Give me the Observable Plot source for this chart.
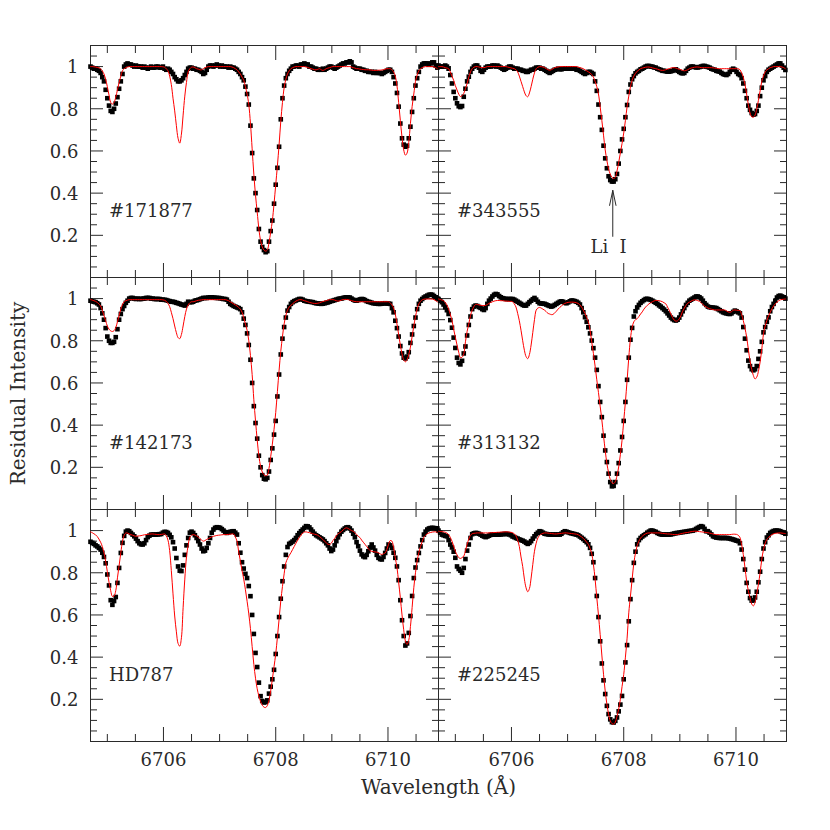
<!DOCTYPE html>
<html>
<head>
<meta charset="utf-8">
<script src="https://cdn.jsdelivr.net/npm/d3@7"></script>
<script src="https://cdn.jsdelivr.net/npm/@observablehq/plot@0.6"></script>
<style>
  body { margin: 0; background: #fff; }
</style>
</head>
<body>
<div id="chart"></div>
<script>
// ---------- data ----------
const wave = [
6704.70,6704.73,6704.76,6704.79,6704.82,6704.85,6704.88,6704.91,6704.94,6704.97,
6705.00,6705.03,6705.06,6705.09,6705.12,6705.15,6705.18,6705.21,6705.24,6705.27,
6705.30,6705.33,6705.36,6705.39,6705.42,6705.45,6705.48,6705.51,6705.54,6705.57,
6705.60,6705.63,6705.66,6705.69,6705.72,6705.75,6705.78,6705.81,6705.84,6705.87,
6705.90,6705.93,6705.96,6705.99,6706.02,6706.05,6706.08,6706.11,6706.14,6706.17,
6706.20,6706.23,6706.26,6706.29,6706.32,6706.35,6706.38,6706.41,6706.44,6706.47,
6706.50,6706.53,6706.56,6706.59,6706.62,6706.65,6706.68,6706.71,6706.74,6706.77,
6706.80,6706.83,6706.86,6706.89,6706.92,6706.95,6706.98,6707.01,6707.04,6707.07,
6707.10,6707.13,6707.16,6707.19,6707.22,6707.25,6707.28,6707.31,6707.34,6707.37,
6707.40,6707.43,6707.46,6707.49,6707.52,6707.55,6707.58,6707.61,6707.64,6707.67,
6707.70,6707.73,6707.76,6707.79,6707.82,6707.85,6707.88,6707.91,6707.94,6707.97,
6708.00,6708.03,6708.06,6708.09,6708.12,6708.15,6708.18,6708.21,6708.24,6708.27,
6708.30,6708.33,6708.36,6708.39,6708.42,6708.45,6708.48,6708.51,6708.54,6708.57,
6708.60,6708.63,6708.66,6708.69,6708.72,6708.75,6708.78,6708.81,6708.84,6708.87,
6708.90,6708.93,6708.96,6708.99,6709.02,6709.05,6709.08,6709.11,6709.14,6709.17,
6709.20,6709.23,6709.26,6709.29,6709.32,6709.35,6709.38,6709.41,6709.44,6709.47,
6709.50,6709.53,6709.56,6709.59,6709.62,6709.65,6709.68,6709.71,6709.74,6709.77,
6709.80,6709.83,6709.86,6709.89,6709.92,6709.95,6709.98,6710.01,6710.04,6710.07,
6710.10,6710.13,6710.16,6710.19,6710.22,6710.25,6710.28,6710.31,6710.34,6710.37,
6710.40,6710.43,6710.46,6710.49,6710.52,6710.55,6710.58,6710.61,6710.64,6710.67,
6710.70,6710.73,6710.76,6710.79,6710.82,6710.85,6710.88
];

const starNames = ["#171877", "#343555", "#142173", "#313132", "HD787", "#225245"];
const starCols  = ["L", "R", "L", "R", "L", "R"];
const starRows  = [0, 0, 1, 1, 2, 2];

// #171877 (top left)
const obs171877 = [
1.00,0.995,0.99,0.99,0.985,0.98,0.97,0.95,0.93,0.89,
0.85,0.815,0.79,0.785,0.80,0.825,0.855,0.895,0.93,0.965,
1.00,1.01,1.015,1.01,1.01,1.005,1.00,1.005,1.00,1.00,
1.00,0.995,1.00,0.995,0.99,0.995,1.00,0.995,0.995,1.00,
1.00,0.995,0.995,1.00,0.99,0.985,0.99,0.985,0.975,0.965,
0.95,0.94,0.93,0.93,0.935,0.945,0.96,0.975,0.99,0.995,
0.995,0.99,0.99,0.985,0.985,0.98,0.975,0.965,0.97,0.985,
1.00,1.005,1.005,1.00,1.005,1.01,1.005,1.00,1.005,1.00,
1.00,1.00,0.995,1.00,0.995,0.995,0.99,0.985,0.975,0.965,
0.95,0.935,0.905,0.87,0.82,0.72,0.59,0.47,0.40,0.32,
0.23,0.17,0.145,0.13,0.12,0.125,0.17,0.22,0.27,0.35,
0.44,0.52,0.62,0.75,0.85,0.91,0.945,0.965,0.98,0.99,
1.00,1.00,1.005,1.005,1.00,1.01,1.01,1.015,1.01,1.01,
1.00,1.00,0.995,0.99,0.99,0.985,0.985,0.985,0.99,0.985,
0.99,0.995,1.00,1.00,0.995,0.99,0.995,1.00,1.005,1.01,
1.015,1.015,1.02,1.02,1.025,1.02,1.00,0.995,0.99,0.99,
0.99,0.985,0.985,0.98,0.98,0.975,0.975,0.975,0.97,0.975,
0.97,0.97,0.97,0.965,0.97,0.975,0.98,0.985,0.985,0.975,
0.95,0.92,0.875,0.81,0.73,0.66,0.63,0.62,0.625,0.66,
0.715,0.785,0.85,0.91,0.945,0.975,1.00,1.01,1.015,1.015,
1.015,1.01,1.015,1.02,1.02,1.005,0.995
];
const model171877 = [
1.0,1.0,0.999,0.998,0.996,0.994,0.99,0.98,0.965,0.94,
0.905,0.865,0.83,0.822,0.83,0.855,0.89,0.925,0.955,0.98,
0.99,0.995,0.998,1.0,1.0,1.0,1.0,1.0,1.0,1.0,
1.0,1.0,1.0,1.0,1.0,1.0,1.0,1.0,1.0,1.0,
1.0,1.0,1.0,0.999,0.997,0.99,0.98,0.955,0.915,0.85,
0.79,0.72,0.66,0.637,0.68,0.77,0.86,0.925,0.975,0.99,
0.997,0.998,0.995,0.99,0.988,0.985,0.985,0.99,0.995,0.998,
1.0,1.0,1.0,1.0,1.0,1.0,1.0,1.0,1.0,1.0,
1.0,1.0,1.0,1.0,0.998,0.995,0.99,0.985,0.975,0.965,
0.95,0.935,0.905,0.87,0.82,0.73,0.61,0.49,0.39,0.31,
0.23,0.175,0.145,0.13,0.125,0.13,0.165,0.215,0.27,0.35,
0.44,0.53,0.63,0.74,0.83,0.9,0.94,0.965,0.98,0.99,
0.995,0.998,1.0,1.0,1.0,1.0,1.0,1.0,0.998,0.996,
0.993,0.99,0.988,0.985,0.985,0.987,0.99,0.985,0.982,0.985,
0.99,0.993,0.995,0.998,1.0,1.0,1.0,1.0,1.0,1.0,
1.0,1.0,1.0,1.0,1.0,0.998,0.995,0.993,0.99,0.99,
0.988,0.987,0.986,0.985,0.985,0.985,0.984,0.983,0.982,0.982,
0.982,0.983,0.983,0.984,0.985,0.988,0.99,0.99,0.99,0.985,
0.975,0.955,0.91,0.83,0.745,0.665,0.605,0.58,0.59,0.64,
0.73,0.81,0.87,0.93,0.96,0.98,0.99,0.995,0.998,1.0,
1.0,1.0,1.0,1.0,0.998,0.995,0.99
];

// #343555 (top right)
const obs343555 = [
1.005,1.0,1.0,1.0,1.005,1.0,0.99,0.96,0.92,0.88,
0.85,0.826,0.812,0.808,0.813,0.857,0.895,0.93,0.952,0.975,
0.99,1.0,1.005,1.005,0.995,0.98,0.975,0.985,0.995,1.0,
1.0,1.0,1.005,1.005,1.0,1.005,1.0,0.995,0.99,0.985,
0.99,0.995,1.0,1.0,0.995,0.99,0.99,0.99,0.985,0.985,
0.98,0.98,0.975,0.975,0.98,0.985,0.985,0.99,0.995,0.995,
0.995,0.99,0.99,0.985,0.98,0.975,0.97,0.975,0.98,0.985,
0.987,0.99,0.988,0.987,0.99,0.992,0.99,0.99,0.992,0.99,
0.99,0.99,0.985,0.985,0.98,0.975,0.97,0.965,0.97,0.975,
0.975,0.97,0.965,0.93,0.885,0.82,0.76,0.70,0.625,0.565,
0.518,0.48,0.462,0.455,0.455,0.466,0.491,0.54,0.6,0.655,
0.705,0.76,0.818,0.88,0.915,0.94,0.955,0.968,0.975,0.98,
0.987,0.99,0.995,1.0,1.003,1.003,1.0,1.0,0.996,0.995,
0.99,0.987,0.984,0.98,0.98,0.978,0.976,0.976,0.978,0.98,
0.985,0.987,0.98,0.975,0.97,0.968,0.97,0.98,0.99,0.995,
1.0,1.0,0.998,0.996,0.996,0.998,1.0,1.003,1.003,1.0,
0.998,0.995,0.99,0.987,0.985,0.98,0.978,0.976,0.97,0.965,
0.962,0.96,0.965,0.975,0.985,0.99,0.985,0.975,0.965,0.96,
0.945,0.92,0.885,0.85,0.815,0.795,0.78,0.772,0.775,0.79,
0.815,0.86,0.9,0.935,0.955,0.975,0.985,0.99,0.995,1.0,
1.005,1.01,1.015,1.015,1.005,0.995,0.984
];
const model343555 = [
1.0,1.0,1.0,0.998,0.995,0.993,0.99,0.975,0.955,0.935,
0.91,0.889,0.87,0.858,0.862,0.873,0.895,0.92,0.95,0.975,
0.99,0.997,1.0,1.0,0.998,0.996,0.995,0.995,0.997,1.0,
1.0,1.0,1.0,1.0,1.0,1.0,1.0,1.0,1.0,1.0,
1.0,0.998,0.996,0.994,0.992,0.99,0.985,0.975,0.955,0.93,
0.905,0.88,0.862,0.857,0.875,0.905,0.94,0.97,0.99,0.997,
1.0,1.0,0.998,0.995,0.99,0.985,0.983,0.985,0.99,0.995,
0.997,0.998,1.0,1.0,1.0,1.0,1.0,1.0,1.0,1.0,
1.0,1.0,1.0,0.998,0.995,0.993,0.99,0.985,0.98,0.975,
0.97,0.962,0.95,0.93,0.905,0.87,0.81,0.745,0.675,0.605,
0.555,0.515,0.49,0.475,0.47,0.475,0.505,0.545,0.59,0.635,
0.685,0.745,0.81,0.86,0.905,0.935,0.955,0.968,0.978,0.984,
0.99,0.993,0.995,0.997,0.998,0.998,0.996,0.994,0.992,0.99,
0.988,0.985,0.983,0.982,0.983,0.985,0.988,0.99,0.993,0.995,
0.995,0.993,0.99,0.987,0.985,0.982,0.98,0.982,0.985,0.99,
0.993,0.995,0.997,0.998,0.998,0.997,0.995,0.995,0.995,0.995,
0.995,0.995,0.995,0.994,0.993,0.992,0.99,0.99,0.99,0.99,
0.99,0.99,0.99,0.99,0.99,0.99,0.99,0.99,0.99,0.985,
0.97,0.95,0.915,0.87,0.82,0.78,0.762,0.76,0.77,0.8,
0.84,0.885,0.93,0.955,0.975,0.984,0.99,0.995,0.997,1.0,
1.0,1.0,1.0,1.0,0.998,0.995,0.99
];

// #142173 (middle left)
const obs142173 = [
0.99,0.987,0.985,0.983,0.978,0.972,0.955,0.93,0.9,0.86,
0.82,0.80,0.79,0.79,0.795,0.817,0.855,0.9,0.927,0.95,
0.965,0.98,0.99,1.0,1.003,1.003,1.0,0.998,1.0,0.998,
0.998,1.0,1.0,1.003,1.003,1.003,1.0,1.0,0.998,0.998,
0.998,0.998,0.995,0.995,0.994,0.993,0.99,0.988,0.985,0.985,
0.983,0.98,0.978,0.975,0.972,0.97,0.967,0.975,0.985,0.983,
0.983,0.985,0.99,0.992,0.994,0.997,1.0,1.003,1.003,1.003,
1.005,1.006,1.006,1.005,1.004,1.003,1.003,1.002,1.0,0.998,
0.998,0.995,0.985,0.975,0.97,0.965,0.962,0.958,0.955,0.95,
0.935,0.905,0.875,0.835,0.78,0.71,0.6,0.49,0.41,0.336,
0.255,0.2,0.163,0.146,0.143,0.15,0.18,0.235,0.29,0.355,
0.42,0.536,0.64,0.735,0.81,0.865,0.91,0.943,0.96,0.975,
0.983,0.988,0.991,0.995,0.998,0.998,0.995,0.99,0.988,0.986,
0.985,0.984,0.983,0.98,0.978,0.977,0.976,0.975,0.976,0.978,
0.98,0.982,0.985,0.988,0.99,0.993,0.995,0.998,1.0,1.0,
1.003,1.005,1.006,1.006,1.005,1.0,0.995,0.991,0.99,0.993,
0.996,0.998,0.997,0.993,0.988,0.985,0.983,0.98,0.978,0.977,
0.976,0.975,0.975,0.976,0.977,0.978,0.977,0.976,0.975,0.955,
0.935,0.895,0.86,0.82,0.775,0.74,0.72,0.716,0.725,0.746,
0.79,0.83,0.87,0.91,0.95,0.975,0.99,0.998,1.005,1.01,
1.014,1.018,1.019,1.018,1.012,1.006,1.0
];
const model142173 = [
0.995,0.993,0.99,0.987,0.982,0.975,0.965,0.945,0.92,0.895,
0.87,0.855,0.847,0.844,0.848,0.862,0.89,0.92,0.95,0.972,
0.985,0.99,0.993,0.995,0.995,0.995,0.995,0.995,0.995,0.995,
0.995,0.995,0.995,0.995,0.995,0.995,0.995,0.995,0.995,0.995,
0.995,0.995,0.995,0.994,0.992,0.987,0.977,0.962,0.935,0.905,
0.87,0.838,0.815,0.81,0.83,0.87,0.915,0.95,0.97,0.98,
0.985,0.985,0.987,0.99,0.992,0.993,0.994,0.995,0.995,0.995,
0.995,0.995,0.995,0.995,0.995,0.995,0.995,0.995,0.995,0.995,
0.995,0.993,0.99,0.985,0.98,0.975,0.97,0.965,0.958,0.95,
0.935,0.91,0.88,0.85,0.8,0.73,0.64,0.52,0.42,0.33,
0.255,0.205,0.178,0.165,0.16,0.163,0.195,0.25,0.31,0.38,
0.46,0.56,0.66,0.75,0.82,0.88,0.92,0.945,0.96,0.968,
0.975,0.982,0.988,0.992,0.995,0.995,0.993,0.99,0.988,0.985,
0.982,0.98,0.978,0.977,0.977,0.978,0.98,0.983,0.986,0.988,
0.99,0.993,0.995,0.995,0.995,0.993,0.99,0.988,0.99,0.993,
0.995,0.996,0.996,0.995,0.993,0.99,0.988,0.986,0.985,0.985,
0.985,0.985,0.985,0.985,0.985,0.985,0.985,0.985,0.985,0.985,
0.985,0.985,0.985,0.985,0.985,0.985,0.985,0.985,0.98,0.97,
0.955,0.927,0.88,0.83,0.78,0.738,0.71,0.7,0.71,0.735,
0.77,0.82,0.87,0.915,0.95,0.975,0.987,0.994,0.997,0.998,
0.998,0.998,0.998,0.998,0.995,0.99,0.985
];

// #313132 (middle right)
const obs313132 = [
0.998,0.99,0.983,0.972,0.959,0.945,0.927,0.898,0.862,0.815,
0.766,0.72,0.695,0.688,0.705,0.74,0.773,0.825,0.875,0.915,
0.95,0.962,0.967,0.965,0.96,0.956,0.95,0.946,0.955,0.975,
0.99,1.0,1.01,1.018,1.022,1.02,1.012,1.006,1.002,1.0,
0.998,0.998,0.998,0.998,0.998,0.995,0.99,0.985,0.98,0.975,
0.97,0.967,0.967,0.975,0.983,0.99,0.997,1.003,0.995,0.985,
0.978,0.977,0.976,0.975,0.972,0.968,0.965,0.962,0.965,0.97,
0.975,0.98,0.985,0.987,0.985,0.98,0.978,0.982,0.987,0.991,
0.99,0.988,0.985,0.98,0.972,0.955,0.935,0.912,0.89,0.864,
0.835,0.801,0.765,0.72,0.662,0.585,0.51,0.438,0.35,0.28,
0.225,0.17,0.13,0.11,0.112,0.13,0.17,0.22,0.28,0.344,
0.42,0.51,0.615,0.72,0.805,0.861,0.915,0.94,0.958,0.97,
0.98,0.987,0.993,0.998,0.999,0.997,0.994,0.99,0.985,0.98,
0.975,0.968,0.962,0.955,0.948,0.94,0.93,0.92,0.91,0.903,
0.898,0.896,0.9,0.91,0.925,0.94,0.955,0.97,0.98,0.99,
0.995,1.0,1.005,1.01,1.01,1.006,1.0,0.99,0.978,0.97,
0.962,0.959,0.958,0.957,0.956,0.955,0.95,0.945,0.94,0.935,
0.932,0.93,0.928,0.927,0.93,0.937,0.943,0.94,0.935,0.93,
0.91,0.865,0.81,0.755,0.706,0.68,0.665,0.66,0.665,0.68,
0.714,0.75,0.795,0.84,0.865,0.89,0.911,0.94,0.96,0.975,
0.99,1.005,1.012,1.014,1.01,1.006,1.0
];
const model313132 = [
0.998,0.996,0.993,0.99,0.982,0.97,0.951,0.925,0.896,0.855,
0.817,0.78,0.746,0.72,0.722,0.738,0.795,0.845,0.88,0.92,
0.945,0.962,0.972,0.972,0.97,0.968,0.967,0.967,0.968,0.972,
0.977,0.982,0.985,0.988,0.99,0.991,0.991,0.99,0.99,0.989,
0.988,0.988,0.987,0.987,0.985,0.975,0.96,0.93,0.895,0.85,
0.8,0.755,0.725,0.715,0.735,0.78,0.84,0.9,0.945,0.955,
0.958,0.955,0.95,0.945,0.938,0.93,0.927,0.924,0.925,0.932,
0.94,0.95,0.958,0.965,0.972,0.977,0.98,0.982,0.983,0.983,
0.983,0.982,0.98,0.977,0.97,0.96,0.945,0.93,0.91,0.89,
0.85,0.795,0.74,0.68,0.615,0.555,0.49,0.425,0.35,0.28,
0.218,0.175,0.142,0.127,0.123,0.132,0.16,0.202,0.26,0.328,
0.42,0.51,0.612,0.72,0.81,0.864,0.89,0.9,0.905,0.915,
0.927,0.937,0.95,0.96,0.968,0.975,0.98,0.985,0.989,0.991,
0.991,0.99,0.988,0.985,0.98,0.975,0.96,0.945,0.927,0.91,
0.898,0.893,0.895,0.904,0.92,0.94,0.955,0.968,0.978,0.983,
0.988,0.992,0.994,0.993,0.99,0.987,0.98,0.972,0.965,0.96,
0.955,0.952,0.95,0.948,0.946,0.946,0.946,0.946,0.946,0.946,
0.946,0.942,0.937,0.935,0.938,0.945,0.946,0.945,0.944,0.943,
0.925,0.896,0.86,0.817,0.76,0.705,0.665,0.635,0.619,0.628,
0.655,0.7,0.76,0.833,0.87,0.896,0.918,0.935,0.952,0.965,
0.975,0.983,0.99,0.994,0.996,0.997,0.998
];

// HD787 (bottom left)
const obsHD787 = [
0.947,0.942,0.937,0.93,0.925,0.918,0.91,0.895,0.875,0.845,
0.792,0.74,0.67,0.648,0.666,0.685,0.752,0.823,0.894,0.942,
0.975,0.995,1.0,0.997,0.989,0.981,0.973,0.962,0.95,0.94,
0.935,0.934,0.94,0.955,0.969,0.976,0.981,0.981,0.981,0.981,
0.982,0.983,0.984,0.99,0.994,0.993,0.989,0.98,0.968,0.945,
0.915,0.87,0.83,0.81,0.808,0.835,0.885,0.93,0.965,0.99,
0.995,0.989,0.978,0.965,0.95,0.934,0.915,0.902,0.905,0.918,
0.94,0.965,0.99,1.005,1.013,1.016,1.015,1.013,1.007,1.0,
0.993,0.989,0.992,0.994,0.996,0.997,0.99,0.981,0.94,0.895,
0.85,0.82,0.795,0.775,0.737,0.689,0.6,0.51,0.42,0.353,
0.279,0.215,0.192,0.185,0.187,0.195,0.227,0.26,0.295,0.34,
0.415,0.5,0.59,0.677,0.76,0.83,0.885,0.922,0.937,0.942,
0.948,0.955,0.965,0.978,0.988,0.997,1.005,1.013,1.021,1.02,
1.015,1.005,0.995,0.985,0.978,0.973,0.968,0.963,0.958,0.95,
0.94,0.93,0.915,0.903,0.91,0.93,0.95,0.968,0.983,0.995,
1.003,1.01,1.015,1.016,1.01,1.0,0.985,0.968,0.945,0.926,
0.905,0.887,0.878,0.874,0.885,0.902,0.92,0.934,0.92,0.905,
0.885,0.871,0.865,0.863,0.875,0.894,0.915,0.934,0.93,0.918,
0.895,0.871,0.83,0.765,0.67,0.575,0.5,0.455,0.465,0.515,
0.595,0.69,0.775,0.825,0.86,0.894,0.925,0.955,0.981,0.995,
1.005,1.01,1.012,1.013,1.012,1.011,1.01
];
const modelHD787 = [
0.994,0.99,0.985,0.98,0.972,0.96,0.945,0.925,0.895,0.855,
0.805,0.755,0.715,0.688,0.69,0.715,0.776,0.835,0.895,0.95,
0.978,0.989,0.988,0.984,0.981,0.978,0.975,0.973,0.974,0.975,
0.976,0.978,0.98,0.981,0.982,0.983,0.984,0.984,0.983,0.982,
0.981,0.981,0.982,0.983,0.984,0.975,0.955,0.905,0.81,0.7,
0.595,0.52,0.465,0.452,0.492,0.634,0.77,0.875,0.93,0.969,
0.978,0.981,0.979,0.975,0.97,0.962,0.955,0.95,0.953,0.958,
0.962,0.966,0.97,0.973,0.975,0.977,0.978,0.979,0.98,0.981,
0.981,0.981,0.982,0.983,0.984,0.984,0.97,0.95,0.9,0.855,
0.81,0.77,0.72,0.665,0.605,0.535,0.45,0.366,0.3,0.25,
0.215,0.19,0.172,0.163,0.161,0.17,0.195,0.24,0.295,0.355,
0.415,0.495,0.58,0.666,0.735,0.795,0.847,0.867,0.882,0.895,
0.91,0.925,0.94,0.955,0.967,0.978,0.988,0.993,0.994,0.992,
0.99,0.988,0.985,0.983,0.981,0.978,0.972,0.965,0.958,0.95,
0.942,0.935,0.934,0.94,0.953,0.963,0.975,0.985,0.99,0.995,
1.003,1.01,1.013,1.01,1.005,1.0,0.997,0.99,0.982,0.973,
0.967,0.955,0.945,0.935,0.925,0.915,0.905,0.902,0.9,0.899,
0.898,0.895,0.89,0.887,0.89,0.894,0.91,0.935,0.953,0.95,
0.92,0.871,0.825,0.755,0.682,0.6,0.53,0.476,0.46,0.48,
0.545,0.635,0.729,0.8,0.855,0.895,0.925,0.948,0.969,0.978,
0.985,0.989,0.991,0.993,0.994,0.994,0.99
];

// #225245 (bottom right)
const obs225245 = [
1.0,0.99,0.981,0.978,0.975,0.973,0.955,0.934,0.92,0.9,
0.871,0.83,0.818,0.81,0.8,0.823,0.865,0.905,0.934,0.965,
0.983,0.987,0.989,0.988,0.985,0.981,0.976,0.972,0.969,0.972,
0.976,0.98,0.981,0.981,0.981,0.981,0.981,0.982,0.983,0.984,
0.984,0.984,0.982,0.978,0.972,0.969,0.965,0.962,0.958,0.955,
0.952,0.948,0.942,0.937,0.942,0.95,0.962,0.973,0.983,0.99,
0.997,0.995,0.99,0.985,0.984,0.982,0.981,0.981,0.981,0.981,
0.981,0.981,0.981,0.985,0.992,0.997,0.995,0.992,0.989,0.987,
0.985,0.983,0.981,0.978,0.972,0.966,0.96,0.952,0.945,0.935,
0.918,0.89,0.85,0.775,0.69,0.59,0.475,0.37,0.29,0.225,
0.169,0.13,0.105,0.092,0.09,0.098,0.114,0.143,0.175,0.216,
0.295,0.375,0.457,0.57,0.675,0.765,0.847,0.9,0.935,0.955,
0.965,0.972,0.978,0.983,0.99,0.995,1.0,1.0,0.997,0.994,
0.989,0.985,0.982,0.981,0.981,0.981,0.981,0.981,0.982,0.984,
0.986,0.988,0.989,0.99,0.992,0.993,0.994,0.995,0.997,0.998,
0.999,1.0,1.003,1.008,1.013,1.017,1.021,1.018,1.008,0.997,
0.997,0.99,0.982,0.973,0.97,0.967,0.966,0.965,0.965,0.965,
0.965,0.965,0.964,0.962,0.96,0.958,0.955,0.952,0.95,0.94,
0.91,0.865,0.815,0.752,0.71,0.68,0.668,0.669,0.683,0.71,
0.755,0.805,0.865,0.915,0.945,0.967,0.978,0.989,0.994,0.998,
1.0,1.0,0.999,0.997,0.993,0.99,0.985
];
const model225245 = [
0.997,0.996,0.995,0.994,0.992,0.988,0.981,0.968,0.95,0.927,
0.902,0.885,0.872,0.868,0.872,0.879,0.905,0.935,0.96,0.978,
0.985,0.987,0.988,0.989,0.989,0.989,0.989,0.989,0.989,0.989,
0.989,0.99,0.99,0.991,0.991,0.992,0.992,0.993,0.993,0.994,
0.994,0.994,0.993,0.992,0.99,0.985,0.975,0.955,0.925,0.875,
0.83,0.77,0.729,0.71,0.725,0.775,0.84,0.902,0.94,0.965,
0.977,0.983,0.987,0.989,0.989,0.988,0.987,0.986,0.985,0.984,
0.984,0.985,0.986,0.987,0.988,0.989,0.989,0.988,0.987,0.986,
0.985,0.984,0.983,0.98,0.975,0.97,0.963,0.955,0.945,0.935,
0.915,0.89,0.84,0.77,0.682,0.6,0.508,0.41,0.319,0.24,
0.177,0.13,0.098,0.085,0.082,0.092,0.12,0.153,0.2,0.26,
0.318,0.4,0.49,0.61,0.69,0.77,0.845,0.895,0.928,0.95,
0.965,0.973,0.98,0.985,0.988,0.989,0.989,0.989,0.989,0.989,
0.989,0.989,0.988,0.987,0.986,0.985,0.984,0.984,0.983,0.982,
0.981,0.981,0.981,0.983,0.985,0.987,0.989,0.99,0.991,0.993,
0.995,0.996,0.997,0.997,0.996,0.995,0.994,0.993,0.992,0.991,
0.99,0.988,0.986,0.984,0.982,0.981,0.981,0.981,0.981,0.981,
0.981,0.981,0.981,0.981,0.982,0.983,0.983,0.982,0.978,0.968,
0.935,0.887,0.825,0.76,0.715,0.682,0.652,0.643,0.66,0.7,
0.745,0.8,0.865,0.91,0.94,0.958,0.968,0.975,0.981,0.985,
0.987,0.988,0.989,0.989,0.988,0.987,0.986
];

const obsSeries   = [obs171877, obs343555, obs142173, obs313132, obsHD787, obs225245];
const modelSeries = [model171877, model343555, model142173, model313132, modelHD787, model225245];

// axis settings
const xDomain = [6704.7, 6710.9];
const yDomain = [0, 1.1];
const xMajorTicks = [6706, 6708, 6710];
const xMinorTicks = [6705, 6705.5, 6706.5, 6707, 6707.5, 6708.5, 6709, 6709.5, 6710.5];
const yMajorTicks = [0.2, 0.4, 0.6, 0.8, 1];
const yMinorTicks = [0.05, 0.1, 0.15, 0.25, 0.3, 0.35, 0.45, 0.5, 0.55, 0.65, 0.7, 0.75, 0.85, 0.9, 0.95, 1.05];

// annotations
const liLabel = "Li\u00a0\u00a0I";
const liWave = 6707.805;
const xTitle = "Wavelength (Å)";
const yTitle = "Residual Intensity";

// ---------- build tables ----------
const obsRows = [];
const modelRows = [];
starNames.forEach((name, s) => {
  if (obsSeries[s].length !== wave.length) throw new Error("obs length " + name + " " + obsSeries[s].length);
  if (modelSeries[s].length !== wave.length) throw new Error("model length " + name + " " + modelSeries[s].length);
  wave.forEach((w, i) => {
    obsRows.push({star: name, col: starCols[s], row: starRows[s], wave: w, value: obsSeries[s][i]});
    modelRows.push({star: name, col: starCols[s], row: starRows[s], wave: w, value: modelSeries[s][i]});
  });
});
const nameRows = starNames.map((name, s) => ({name, col: starCols[s], row: starRows[s], wave: 6705.03, value: 0.315}));
const liRows = [{col: "R", row: 0, wave: liWave, from: 0.195, to: 0.413, labelWave: 6707.73, labelValue: 0.145}];

const font = "'DejaVu Serif', 'Liberation Serif', serif";
const ink = "#2a2a2a";

const chart = Plot.plot({
  width: 830,
  height: 830,
  marginLeft: 90,
  marginRight: 44,
  marginTop: 45,
  marginBottom: 89,
  style: {fontFamily: font, fontSize: "18px", background: "white", color: ink},
  x: {domain: xDomain},
  y: {domain: yDomain},
  fx: {domain: ["L", "R"], padding: 0, axis: null},
  fy: {domain: [0, 1, 2], padding: 0, axis: null},
  marks: [
    // inward ticks on all four sides of every panel
    Plot.axisX({anchor: "bottom", ticks: xMajorTicks, tickSize: -14, fill: "none", label: null, facetAnchor: null, stroke: ink}),
    Plot.axisX({anchor: "bottom", ticks: xMinorTicks, tickSize: -7, fill: "none", label: null, facetAnchor: null, stroke: ink}),
    Plot.axisX({anchor: "top", ticks: xMajorTicks, tickSize: -14, fill: "none", label: null, facetAnchor: null, stroke: ink}),
    Plot.axisX({anchor: "top", ticks: xMinorTicks, tickSize: -7, fill: "none", label: null, facetAnchor: null, stroke: ink}),
    Plot.axisY({anchor: "left", ticks: yMajorTicks, tickSize: -13, fill: "none", label: null, facetAnchor: null, stroke: ink}),
    Plot.axisY({anchor: "left", ticks: yMinorTicks, tickSize: -7, fill: "none", label: null, facetAnchor: null, stroke: ink}),
    Plot.axisY({anchor: "right", ticks: yMajorTicks, tickSize: -13, fill: "none", label: null, facetAnchor: null, stroke: ink}),
    Plot.axisY({anchor: "right", ticks: yMinorTicks, tickSize: -7, fill: "none", label: null, facetAnchor: null, stroke: ink}),
    // tick labels
    Plot.axisX({anchor: "bottom", ticks: xMajorTicks, tickSize: 0, tickPadding: 12, stroke: "none", fill: ink, fontSize: 18, label: null, tickFormat: d => String(d)}),
    Plot.axisY({anchor: "left", ticks: yMajorTicks, tickSize: 0, tickPadding: 12, stroke: "none", fill: ink, fontSize: 18, label: null, tickFormat: d => String(d), dy: 1}),
    Plot.frame({stroke: ink, strokeWidth: 1}),
    // observed spectrum
    Plot.dot(obsRows, {x: "wave", y: "value", fx: "col", fy: "row", symbol: "square", r: 2.6, fill: "black", stroke: null}),
    // synthetic spectrum
    Plot.line(modelRows, {x: "wave", y: "value", fx: "col", fy: "row", stroke: "#ff0000", strokeWidth: 1, curve: "catmull-rom"}),
    // star names
    Plot.text(nameRows, {x: "wave", y: "value", fx: "col", fy: "row", text: "name", textAnchor: "start", lineAnchor: "middle", fontSize: 18, fill: ink}),
    // Li I marker
    Plot.arrow(liRows, {x1: "wave", x2: "wave", y1: "from", y2: "to", fx: "col", fy: "row", stroke: ink, strokeWidth: 1, headLength: 24, headAngle: 24}),
    Plot.text(liRows, {x: "labelWave", y: "labelValue", fx: "col", fy: "row", text: () => liLabel, textAnchor: "middle", lineAnchor: "middle", fontSize: 18, fill: ink}),
    // axis titles
    Plot.text([{col: "L", row: 2, t: xTitle}], {fx: "col", fy: "row", text: "t", frameAnchor: "bottom-right", dy: 46, textAnchor: "middle", lineAnchor: "middle", fontSize: 20, fill: ink}),
    Plot.text([{col: "L", row: 1, t: yTitle}], {fx: "col", fy: "row", text: "t", frameAnchor: "left", dx: -72, rotate: -90, textAnchor: "middle", lineAnchor: "middle", fontSize: 20, fill: ink})
  ]
});

document.getElementById("chart").append(chart);
</script>
</body>
</html>
